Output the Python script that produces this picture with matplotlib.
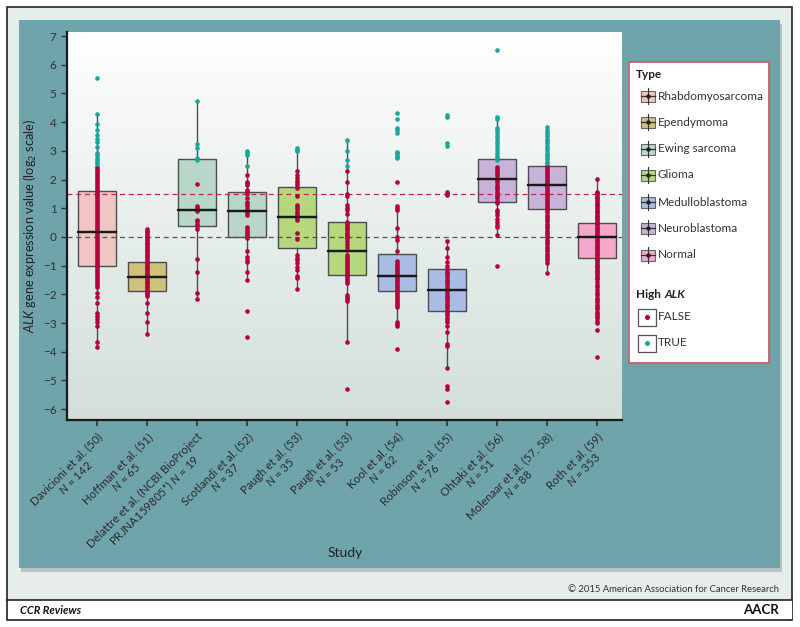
import matplotlib
matplotlib.use('Agg')
import matplotlib.pyplot as plt
from matplotlib.patches import Rectangle
from matplotlib.lines import Line2D
from matplotlib.colors import LinearSegmentedColormap
import numpy as np

plt.rcParams['font.family'] = ['Lato', 'DejaVu Sans']
plt.rcParams['mathtext.fontset'] = 'custom'
plt.rcParams['mathtext.rm'] = 'Lato'
plt.rcParams['mathtext.it'] = 'Lato:italic'
plt.rcParams['mathtext.bf'] = 'Lato:bold'

# Study labels and sample sizes
study_names = ['Davicioni et al. (50)', 'Hoffman et al. (51)',
               'Delattre et al. (NCBI BioProject\nPRJNA159805*)',
               'Scotlandi et al. (52)', 'Paugh et al. (53)', 'Paugh et al. (53)',
               'Kool et al. (54)', 'Robinson et al. (55)', 'Ohtaki et al. (56)',
               'Molenaar et al. (57, 58)', 'Roth et al. (59)']
study_n = [142, 65, 19, 37, 35, 53, 62, 76, 51, 88, 353]
study_type = [0, 1, 2, 2, 3, 3, 4, 4, 5, 5, 6]

types = ['Rhabdomyosarcoma', 'Ependymoma', 'Ewing sarcoma', 'Glioma',
         'Medulloblastoma', 'Neuroblastoma', 'Normal']
type_colors = ['#efc6c3', '#cdc17b', '#b9d7c9', '#b5d77d', '#a9bce4', '#c7b2da', '#f3a8cb']

# box statistics
q1 = [-1.00, -1.90, 0.37, 0.01, -0.39, -1.32, -1.89, -2.57, 1.22, 0.98, -0.72]
med = [0.17, -1.39, 0.94, 0.91, 0.71, -0.49, -1.37, -1.85, 2.03, 1.81, -0.01]
q3 = [1.59, -0.88, 2.71, 1.58, 1.75, 0.51, -0.58, -1.13, 2.72, 2.47, 0.50]
whis_lo = [-3.83, -3.38, -2.16, -1.50, -1.81, -3.66, -3.12, -4.58, 0.05, -1.27, -2.55]
whis_hi = [4.26, 0.28, 4.75, 3.00, 3.09, 3.38, 1.08, -0.16, 4.19, 3.82, 2.02]

# individual samples (High ALK TRUE / FALSE)
davicioni_true = [5.52, 4.27, 3.92, 3.74, 3.56, 3.42, 3.30, 3.14, 2.92, 2.84, 2.76, 2.68, 2.60, 2.53]
davicioni_false = [2.45, 2.38, 2.31, 2.24, 2.17, 2.10, 2.03, 1.96, 1.89, 1.82, 1.75, 1.68, 1.61, 1.54,
                   1.47, 1.40, 1.33, 1.26, 1.19, 1.12, 1.05, 0.98, 0.91, 0.84, 0.77, 0.70, 0.63, 0.56,
                   0.49, 0.42, 0.35, 0.28, 0.21, 0.14, 0.07, 0.00, -0.07, -0.14, -0.21, -0.28, -0.35,
                   -0.42, -0.49, -0.56, -0.63, -0.70, -0.77, -0.84, -0.91, -0.98, -1.05, -1.12, -1.19,
                   -1.26, -1.33, -1.40, -1.47, -1.54, -1.61, -1.68, -1.75, -1.96, -2.08, -2.29, -2.65,
                   -2.76, -2.87, -2.98, -3.10, -3.65, -3.83]
hoffman_true = []
hoffman_false = [0.28, 0.22, 0.16, 0.10, 0.04, -0.02, -0.08, -0.14, -0.20, -0.26, -0.32, -0.38, -0.44,
                 -0.50, -0.56, -0.62, -0.68, -0.74, -0.80, -0.86, -0.92, -0.98, -1.04, -1.10, -1.16,
                 -1.22, -1.28, -1.34, -1.40, -1.46, -1.52, -1.58, -1.64, -1.70, -1.76, -1.82, -1.88,
                 -1.94, -2.00, -2.06, -2.31, -2.65, -2.98, -3.38]
delattre_true = [4.75, 3.23, 3.09, 2.74, 2.68]
delattre_false = [1.84, 1.06, 1.00, 0.95, 0.90, 0.60, 0.54, 0.46, 0.38, 0.29, -0.77, -1.21, -1.96, -2.16]
scotlandi_true = [3.00, 2.92, 2.86, 2.48]
scotlandi_false = [2.14, 1.93, 1.87, 1.81, 1.62, 1.55, 1.48, 1.35, 1.23, 1.15, 1.06, 0.98, 0.90, 0.83,
                   0.77, 0.36, 0.29, 0.22, 0.15, 0.08, 0.02, -0.03, -0.49, -0.69, -0.80, -0.87, -1.23,
                   -1.50, -2.58, -3.48]
paugh1_true = [3.09, 3.03, 2.98]
paugh1_false = [2.31, 2.14, 2.05, 1.96, 1.88, 1.80, 1.72, 1.43, 1.11, 1.03, 0.96, 0.88, 0.80, 0.72,
                0.65, 0.59, 0.13, -0.08, -0.63, -0.72, -0.80, -0.90, -1.05, -1.15, -1.37, -1.43, -1.81]
paugh2_true = [3.38, 3.00, 2.68, 2.48]
paugh2_false = [2.31, 1.93, 1.50, 1.43, 1.10, 1.02, 0.94, 0.80, 0.53, 0.45, 0.38, 0.30, 0.24, 0.15,
                0.08, 0.00, -0.05, -0.15, -0.25, -0.35, -0.45, -0.62, -0.69, -0.76, -0.83, -0.90,
                -0.97, -1.04, -1.11, -1.18, -1.25, -1.32, -1.39, -1.46, -1.53, -1.61, -2.02, -2.08,
                -2.15, -2.25, -3.66, -5.31]
kool_true = [4.32, 4.11, 3.80, 3.72, 3.63, 2.97, 2.91, 2.85, 2.79, 2.74]
kool_false = [1.93, 1.08, 1.01, 0.94, 0.31, 0.00, -0.10, -0.49, -0.84, -0.91, -0.98, -1.05, -1.12,
              -1.19, -1.26, -1.33, -1.40, -1.47, -1.54, -1.61, -1.68, -1.75, -1.82, -1.89, -1.96,
              -2.03, -2.10, -2.17, -2.24, -2.31, -2.38, -2.43, -2.95, -3.05, -3.12, -3.90]
robinson_true = [4.25, 4.19, 3.26, 3.17]
robinson_false = [1.56, 1.51, 1.46, -0.16, -0.38, -0.69, -0.88, -1.03, -1.13, -1.21, -1.29, -1.37,
                  -1.45, -1.53, -1.61, -1.69, -1.77, -1.85, -1.93, -2.01, -2.09, -2.17, -2.25, -2.33,
                  -2.41, -2.49, -2.57, -2.65, -2.73, -2.81, -2.89, -2.95, -3.12, -3.30, -3.72, -3.80,
                  -4.58, -5.20, -5.30, -5.74]
ohtaki_true = [6.52, 4.19, 4.10, 3.80, 3.72, 3.62, 3.52, 3.42, 3.32, 3.22, 3.12, 3.02, 2.92, 2.82,
               2.74, 2.68]
ohtaki_false = [2.45, 2.38, 2.30, 2.22, 2.14, 2.06, 1.98, 1.90, 1.82, 1.74, 1.66, 1.58, 1.50, 1.42,
                1.34, 1.26, 1.17, 0.94, 0.86, 0.76, 0.64, 0.52, 0.42, 0.36, 0.05, -1.02]
molenaar_true = [3.82, 3.74, 3.66, 3.58, 3.50, 3.42, 3.34, 3.26, 3.18, 3.10, 3.02, 2.94, 2.86, 2.78,
                 2.70, 2.62, 2.56]
molenaar_false = [2.48, 2.41, 2.34, 2.27, 2.20, 2.13, 2.06, 1.99, 1.92, 1.85, 1.78, 1.71, 1.64, 1.57,
                  1.50, 1.43, 1.36, 1.29, 1.22, 1.15, 1.08, 1.01, 0.94, 0.86, 0.78, 0.70, 0.62, 0.54,
                  0.46, 0.38, 0.30, 0.22, 0.14, 0.06, -0.02, -0.10, -0.18, -0.26, -0.34, -0.42, -0.50,
                  -0.58, -0.66, -0.74, -0.82, -0.90, -1.27]
roth_true = []
roth_false = [2.02, 1.58, 1.52, 1.46, 1.40, 1.34, 1.28, 1.22, 1.16, 1.10, 1.04, 0.98, 0.92, 0.86,
              0.80, 0.74, 0.68, 0.62, 0.56, 0.50, 0.44, 0.38, 0.32, 0.26, 0.20, 0.14, 0.08, 0.02,
              -0.04, -0.10, -0.16, -0.22, -0.28, -0.34, -0.40, -0.46, -0.52, -0.58, -0.64, -0.70,
              -0.76, -0.82, -0.88, -0.94, -1.00, -1.06, -1.12, -1.18, -1.24, -1.30, -1.36, -1.42,
              -1.48, -1.56, -1.66, -1.76, -1.86, -1.96, -2.04, -2.12, -2.20, -2.28, -2.36, -2.44,
              -2.52, -2.60, -2.68, -2.76, -2.84, -2.92, -3.00, -3.24, -4.20]

true_vals = [davicioni_true, hoffman_true, delattre_true, scotlandi_true, paugh1_true, paugh2_true,
             kool_true, robinson_true, ohtaki_true, molenaar_true, roth_true]
false_vals = [davicioni_false, hoffman_false, delattre_false, scotlandi_false, paugh1_false,
              paugh2_false, kool_false, robinson_false, ohtaki_false, molenaar_false, roth_false]

red = '#b5003b'
teal = '#17a89a'
W, H = 800, 627


def fx(x):
    return x / W


def fy(y):
    return 1 - y / H


fig = plt.figure(figsize=(8, 6.27), dpi=100, facecolor='white')

# page frame, teal panel, footer
fig.patches.append(Rectangle((fx(7), fy(620)), fx(785), 613 / H, transform=fig.transFigure,
                             facecolor='#e6edeb', edgecolor='#222222', lw=1.2, zorder=0))
fig.patches.append(Rectangle((fx(21), fy(572)), fx(761), 548 / H, transform=fig.transFigure,
                             facecolor='#b9c4c2', edgecolor='none', zorder=0.5))
fig.patches.append(Rectangle((fx(19), fy(568)), fx(761), 548 / H, transform=fig.transFigure,
                             facecolor='#6fa4aa', edgecolor='none', zorder=1))
fig.patches.append(Rectangle((fx(7.6), fy(619.4)), fx(784), 19 / H, transform=fig.transFigure,
                             facecolor='white', edgecolor='none', zorder=1))
fig.lines.append(Line2D([fx(7), fx(792)], [fy(600), fy(600)], transform=fig.transFigure,
                        color='#222222', lw=1.2, zorder=2))

ax = fig.add_axes([fx(67), fy(420), 555 / W, 388 / H])
ax.set_zorder(3)

# gradient panel background
grad = np.linspace(0, 1, 256).reshape(-1, 1)
cmap = LinearSegmentedColormap.from_list('bg', ['#ffffff', '#e7eeec', '#d3dfdb'])
ax.imshow(grad, extent=[-0.6, 10.5, -6.38, 7.14], aspect='auto', cmap=cmap, zorder=0)

pos = np.arange(len(study_names))
stats = []
for i in range(len(study_names)):
    stats.append({'q1': q1[i], 'med': med[i], 'q3': q3[i], 'whislo': whis_lo[i], 'whishi': whis_hi[i]})
bp = ax.bxp(stats, positions=pos, widths=0.75, patch_artist=True, showfliers=False, showcaps=False,
            boxprops=dict(edgecolor='#4d4d4d', lw=1.0),
            whiskerprops=dict(color='#4d4d4d', lw=1.0),
            medianprops=dict(color='#1a1a1a', lw=1.6), zorder=1)
for i, b in enumerate(bp['boxes']):
    b.set_facecolor(type_colors[study_type[i]])

ax.axhline(1.5, color='#c8234f', ls=(0, (4, 3)), lw=0.9, zorder=2)
ax.axhline(0, color='#555555', ls=(0, (4, 3)), lw=0.9, zorder=2)

for i in range(len(study_names)):
    ax.scatter(np.full(len(false_vals[i]), i), false_vals[i], s=11, color=red, linewidths=0, zorder=4)
    ax.scatter(np.full(len(true_vals[i]), i), true_vals[i], s=11, color=teal, linewidths=0, zorder=4)
    ax.plot([i - 0.375, i + 0.375], [med[i], med[i]], color='#1a1a1a', lw=1.6, zorder=5)

ax.set_xlim(-0.6, 10.5)
ax.set_ylim(-6.38, 7.14)
ax.set_yticks(range(-6, 8))
ax.set_xticks(pos)
labels = [name + '\n$N$ = ' + str(n) if '\n' not in name else name + ' $N$ = ' + str(n)
          for name, n in zip(study_names, study_n)]
ax.set_xticklabels(labels, rotation=45, ha='right', va='top', rotation_mode='anchor',
                   multialignment='center', fontsize=8.3, color='#2b2b2b', linespacing=1.05)
ax.tick_params(axis='y', labelsize=8.5, labelcolor='#333333', color='#333333', length=4, width=1)
ax.tick_params(axis='x', color='#333333', length=4, width=1.2, pad=4)
for s in ['top', 'right']:
    ax.spines[s].set_visible(False)
for s in ['left', 'bottom']:
    ax.spines[s].set_color('#1a1a1a')
    ax.spines[s].set_linewidth(1.6)

fig.text(fx(30), fy(226), r'$\mathit{ALK}$ gene expression value (log$_2$ scale)', rotation=90,
         ha='center', va='center', fontsize=9.2, color='#222222', zorder=4)
fig.text(fx(345), fy(553), 'Study', ha='center', va='center', fontsize=10, color='#222222', zorder=4)

# legend
lax = fig.add_axes([fx(629), fy(363), 140 / W, 301 / H])
lax.set_zorder(4)
lax.set_xlim(629, 769)
lax.set_ylim(363, 62)
lax.axis('off')
lax.add_patch(Rectangle((631, 64), 140, 301, facecolor='#8a9a9a', edgecolor='none', alpha=0.5,
                        clip_on=False))
lax.add_patch(Rectangle((629, 62), 140, 301, facecolor='white', edgecolor='#c4636b', lw=1.3,
                        clip_on=False))
lax.text(636, 74, 'Type', fontsize=8.5, fontweight='bold', color='#222222', va='center')
type_y = [96, 122, 149, 175, 202, 228, 255]
for t, c, yy in zip(types, type_colors, type_y):
    lax.add_patch(Rectangle((641, yy - 5.5), 14, 11, facecolor=c, edgecolor='#666666', lw=0.8))
    lax.plot([648, 648], [yy - 8, yy + 8], color='#333333', lw=0.8)
    lax.plot([641, 655], [yy, yy], color='#333333', lw=0.9)
    lax.plot([648], [yy], 'o', color='#222222', ms=2.2)
    lax.text(658, yy, t, fontsize=8.5, color='#333333', va='center')
lax.text(636, 295, 'High', fontsize=8.5, fontweight='bold', color='#222222', va='center')
lax.text(664, 295, 'ALK', fontsize=8.5, fontweight='bold', style='italic', color='#222222', va='center')
for lab, c, yy in [('FALSE', red, 317), ('TRUE', teal, 343)]:
    lax.add_patch(Rectangle((638, yy - 8.5), 18, 17, facecolor='white', edgecolor='#555555', lw=0.9))
    lax.plot([647], [yy], 'o', color=c, ms=2.6)
    lax.text(658, yy, lab, fontsize=8.5, color='#333333', va='center')

fig.text(fx(779), fy(590), '\u00a9 2015 American Association for Cancer Research', ha='right',
         va='center', fontsize=6.8, color='#333333', zorder=4)
fig.text(fx(20), fy(610), 'CCR Reviews', ha='left', va='center', fontsize=8, fontweight='bold',
         style='italic', color='#111111', zorder=4)
fig.text(fx(779), fy(610), 'AACR', ha='right', va='center', fontsize=9.5, fontweight='bold',
         color='#111111', zorder=4)

fig.savefig('out.png', dpi=100, facecolor='white')
